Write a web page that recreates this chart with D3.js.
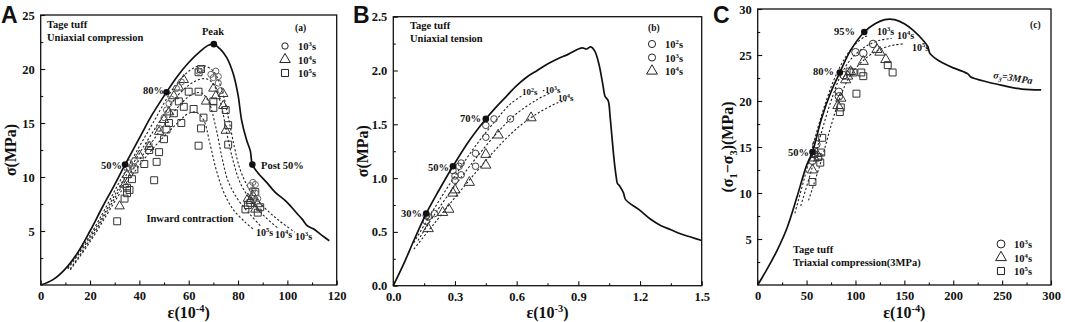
<!DOCTYPE html>
<html>
<head>
<meta charset="utf-8">
<script src="https://cdn.jsdelivr.net/npm/d3@7"></script>
<style>
  body { margin: 0; background: #fff; }
  text { font-family: "Liberation Serif", "Times New Roman", serif; font-weight: bold; fill: #111; }
  .letter { font-family: "Liberation Sans", Arial, sans-serif; font-size: 23px; }
</style>
</head>
<body>
<div id="chart"></div>
<script>
// ---- panel A : uniaxial compression (strain 1e-4, stress MPa)
const aXTicks = [0, 20, 40, 60, 80, 100, 120];
const aYTicks = [5, 10, 15, 20, 25];
const aSolid = [[0,0],[5,0.5],[10,1.5],[15,3.0],[20,5.0],[25,7.2],[30,9.3],[34.2,11.15],[40,13.6],[45,15.7],[51,17.85],[55,19.2],[60,20.6],[65,21.7],[68,22.2],[70.2,22.3],[72.5,21.9],[75.3,21.1],[78,19.6],[80,17.6],[81.5,15.2],[83.5,13.4],[85,12.4],[85.8,11.15],[88,10.4],[91.6,9.5],[95,8.6],[99.7,7.7],[104,6.6],[106,6.1],[108,5.5],[110.5,5.2],[114,4.6],[117,4.1]];
const aFit3 = [[11,1.6],[20,4.6],[34,10.4],[45,14.8],[55,18.6],[62,20.1],[66,20.3],[70,19.8],[73,18.4],[76,15.6],[78.5,12.8],[81,10.6],[85,8.7],[91,7.1],[97,5.9],[103,4.9]];
const aFit4 = [[11,1.5],[20,4.4],[35,10.3],[45,14.0],[55,17.4],[62,18.8],[67,19.1],[70,18.6],[73,16.8],[75.5,14.0],[78,11.5],[81,9.4],[86,7.6],[91,6.3],[96,5.3]];
const aFit5 = [[12,1.5],[20,4.2],[35,9.9],[45,13.2],[55,16.3],[61,17.6],[65,17.8],[68,17.0],[71,14.6],[73.5,11.8],[76,9.6],[80,7.9],[85,6.5],[89,5.5]];
const aFit6 = [[12,1.4],[20,4.0],[35,9.5],[45,12.5],[55,14.9],[60,15.9],[63,16.0],[66,15.3],[68.5,13.2],[71,10.8],[74,8.7],[78,7.0],[83,5.8],[86,5.2]];
const aCircle = [[35,10.8],[36,11.3],[37,11.0],[38,11.5],[44,13.0],[48,14.5],[50,15.5],[51,16.2],[52,16.8],[53,17.2],[55,18.2],[57,18.8],[64,19.8],[65,20.0],[69,19.5],[70,19.2],[71,19.8],[72,19.3],[72,18.7],[73,18.0],[85,9.2],[86,9.5],[87,9.3],[86,8.8],[87,8.5],[88,8.0]];
const aTriangle = [[32,7.3],[34,9.3],[35,10.2],[40,12.0],[44,12.8],[48,14.2],[50,15.3],[52,16.0],[54,17.5],[56,18.3],[58,19.0],[67,17.0],[70,18.2],[71,17.5],[74,17.7],[74,16.6],[75,14.3],[84,8.0],[85,7.8],[86,8.3],[88,7.5],[87,7.0]];
const aSquare = [[31,5.9],[34,8.0],[35,8.5],[35,9.0],[36,8.8],[37,9.8],[38,10.7],[42,11.2],[44,12.5],[46,9.7],[47,11.4],[48,12.3],[50,13.5],[51,14.4],[52,15.0],[54,15.9],[56,17.0],[57,15.0],[58,16.5],[60,17.9],[62,16.3],[64,17.9],[64,19.7],[65,20.0],[64,12.9],[66,15.5],[65,14.5],[70,16.4],[70,17.0],[75,16.2],[76,14.8],[76,13.0],[83,7.0],[84,7.4],[85,7.6],[87,8.6],[88,6.7],[89,7.2]];
const aDots = [[34.2,11.15],[51,17.85],[70.2,22.3],[85.8,11.15]];

// ---- panel B : uniaxial tension (strain 1e-3)
const bXTicks = [0, 0.3, 0.6, 0.9, 1.2, 1.5];
const bYTicks = [0, 0.5, 1.0, 1.5, 2.0, 2.5];
const bSolid = [[0,0],[0.05,0.2],[0.1,0.42],[0.16,0.67],[0.22,0.88],[0.29,1.11],[0.37,1.35],[0.45,1.55],[0.5,1.66],[0.55,1.76],[0.6,1.86],[0.65,1.94],[0.7,2.0],[0.75,2.06],[0.8,2.11],[0.85,2.15],[0.9,2.2],[0.92,2.21],[0.94,2.2],[0.96,2.22],[0.98,2.18],[1.0,2.06],[1.02,1.86],[1.03,1.76],[1.045,1.72],[1.055,1.56],[1.065,1.35],[1.075,1.15],[1.085,1.0],[1.09,0.95],[1.1,0.93],[1.12,0.86],[1.13,0.8],[1.2,0.7],[1.25,0.62],[1.3,0.56],[1.35,0.52],[1.4,0.48],[1.45,0.45],[1.5,0.42]];
const bFit2 = [[0.1,0.4],[0.2,0.72],[0.3,1.02],[0.4,1.3],[0.5,1.54],[0.57,1.69],[0.63,1.77]];
const bFit3 = [[0.12,0.42],[0.2,0.66],[0.3,0.93],[0.4,1.18],[0.5,1.41],[0.6,1.6],[0.7,1.73],[0.76,1.79]];
const bFit4 = [[0.1,0.34],[0.2,0.58],[0.3,0.82],[0.4,1.05],[0.5,1.27],[0.6,1.46],[0.7,1.6],[0.8,1.7],[0.84,1.72]];
const bCircle2 = [[0.16,0.65],[0.17,0.64],[0.2,0.67],[0.29,1.07],[0.3,1.02],[0.33,1.14],[0.45,1.49],[0.49,1.55]];
const bCircle3 = [[0.16,0.6],[0.3,0.98],[0.33,1.03],[0.32,1.11],[0.4,1.23],[0.4,1.11],[0.45,1.38],[0.57,1.55]];
const bTriangle = [[0.17,0.53],[0.24,0.68],[0.27,0.71],[0.3,0.89],[0.29,0.86],[0.37,0.96],[0.45,1.12],[0.45,1.22],[0.51,1.4],[0.67,1.56]];
const bDots = [[0.16,0.67],[0.29,1.11],[0.45,1.55]];

// ---- panel C : triaxial compression (strain 1e-4)
const cXTicks = [0, 50, 100, 150, 200, 250, 300];
const cYTicks = [5, 10, 15, 20, 25, 30];
const cSolid = [[0,0],[10,1.8],[20,3.8],[30,6.2],[40,9.5],[50,13],[56,14.45],[65,18],[75,21],[84,23.1],[95,25.5],[109,27.5],[120,28.4],[130,28.85],[140,28.85],[150,28.4],[160,27.6],[170,26.5],[174,25.9],[176,25.2],[182,24.6],[190,24.1],[200,23.6],[210,23.2],[215,22.95],[218,22.6],[230,22.2],[250,21.7],[270,21.3],[290,21.2]];
const cFit3 = [[38,7.8],[50,12.5],[60,16.5],[70,20],[80,22.8],[90,24.8],[100,26.2],[110,27.0],[114,27.1]];
const cFit4 = [[44,8.6],[55,12.5],[65,16.5],[75,20],[85,22.8],[95,24.5],[110,25.9],[125,26.6],[137,26.8]];
const cFit5 = [[52,9.2],[65,13.5],[75,17.3],[85,20.6],[95,22.8],[110,24.6],[125,25.6],[140,26.1],[150,26.2]];
const cCircle = [[56,13.5],[58,14.2],[60,15.3],[83,20.5],[83,21],[88,22.8],[100,25.3],[108,25.2],[118,26.2]];
const cTriangle = [[56,12.5],[58,13.8],[60,14.3],[82,19.5],[85,20.3],[90,22.3],[92,22.7],[95,23.2],[108,24.3],[122,25.6],[125,25.3],[131,24.5]];
const cSquare = [[56,11.2],[62,13.9],[64,13.3],[65,14.4],[66,16],[84,18.8],[85,19.3],[94,23.2],[98,23.1],[101,20.8],[106,23.1],[108,22.7],[133,23.9],[138,23.1]];
const cDots = [[56,14.45],[84,23.1],[109,27.5]];

const W = 1065, H = 322;
const svg = d3.select("#chart").append("svg").attr("width", W).attr("height", H);

// text with ^sup and _sub segments: "10^3s" or "σ_1"
const richText = (g, x, y, str, size, anchor) => {
    const t = g.append("text").attr("x", x).attr("y", y)
        .attr("font-size", size).attr("text-anchor", anchor || "start");
    const re = /([\^_])\{?([^}\s]*?)\}|([\^_])(.)|([^\^_]+)/g;
    let m, shift = 0;
    while ((m = re.exec(str)) !== null) {
        if (m[5]) {
            t.append("tspan").attr("dy", -shift).text(m[5]);
            shift = 0;
        } else {
            const kind = m[1] || m[3], body = m[2] || m[4];
            const d = kind === "^" ? -size * 0.36 : size * 0.28;
            t.append("tspan").attr("dy", d - shift).attr("font-size", size * 0.65).text(body);
            shift = d;
        }
    }
    return t;
};

const symbolOf = { circle: d3.symbolCircle, triangle: d3.symbolTriangle, square: d3.symbolSquare };

const drawPanel = (p) => {
    const g = svg.append("g");
    const x = d3.scaleLinear().domain(p.xDomain).range([p.left, p.right]);
    const y = d3.scaleLinear().domain(p.yDomain).range([p.bottom, p.top]);

    // minor ticks
    const xStep = p.xTicks[1] - p.xTicks[0], yStep = p.yTicks[1] - p.yTicks[0];
    const xMinor = p.xTicks.slice(0, -1).map((t) => t + xStep / 2);
    const yMinor = d3.range(p.yDomain[0] + yStep / 2, p.yDomain[1], yStep);
    g.append("g").attr("transform", `translate(0,${p.bottom})`)
        .call(d3.axisBottom(x).tickValues(xMinor).tickSizeInner(-2.5).tickSizeOuter(0).tickFormat(""));
    g.append("g").attr("transform", `translate(${p.left},0)`)
        .call(d3.axisLeft(y).tickValues(yMinor).tickSizeInner(-2.5).tickSizeOuter(0).tickFormat(""));

    const xAxis = g.append("g").attr("transform", `translate(0,${p.bottom})`)
        .call(d3.axisBottom(x).tickValues(p.xTicks).tickSizeInner(-4.5).tickSizeOuter(0)
            .tickPadding(5).tickFormat(p.xFormat));
    const yAxis = g.append("g").attr("transform", `translate(${p.left},0)`)
        .call(d3.axisLeft(y).tickValues(p.yTicks).tickSizeInner(-4.5).tickSizeOuter(0)
            .tickPadding(6).tickFormat(p.yFormat));
    g.selectAll(".domain").remove();
    g.selectAll(".tick line").attr("stroke", "#111").attr("stroke-width", 1.1);
    [xAxis, yAxis].forEach((a) => a.selectAll("text")
        .attr("font-size", 12.5).attr("font-family", "Liberation Serif").attr("font-weight", "bold").attr("fill", "#111"));
    xAxis.selectAll("text").attr("dy", "0.8em");

    g.append("rect")
        .attr("x", p.left).attr("y", p.top)
        .attr("width", p.right - p.left).attr("height", p.bottom - p.top)
        .attr("fill", "none").attr("stroke", "#111").attr("stroke-width", 1.3);

    const line = d3.line().x((d) => x(d[0])).y((d) => y(d[1])).curve(d3.curveCatmullRom.alpha(0.5));

    p.fits.forEach((f) => {
        g.append("path").attr("d", line(f))
            .attr("fill", "none").attr("stroke", "#222").attr("stroke-width", 1.1)
            .attr("stroke-dasharray", "2.2,2");
    });

    p.series.forEach((s) => {
        g.append("g").selectAll("path")
            .data(s.data).enter().append("path")
            .attr("transform", (d) => `translate(${x(d[0])},${y(d[1])})`)
            .attr("d", d3.symbol().type(symbolOf[s.shape]).size(s.size))
            .attr("fill", "none").attr("stroke", s.color).attr("stroke-width", 1);
    });

    g.append("path").attr("d", line(p.solid))
        .attr("fill", "none").attr("stroke", "#111").attr("stroke-width", 1.7);

    g.selectAll(".dot").data(p.dots).enter().append("circle")
        .attr("cx", (d) => x(d[0])).attr("cy", (d) => y(d[1]))
        .attr("r", 3.3).attr("fill", "#111");

    // legend
    p.legend.items.forEach((it, i) => {
        const ly = p.legend.y + i * p.legend.gap;
        g.append("path").attr("transform", `translate(${p.legend.x},${ly})`)
            .attr("d", d3.symbol().type(symbolOf[it.shape]).size(it.size + 10))
            .attr("fill", "none").attr("stroke", "#222").attr("stroke-width", 1);
        richText(g, p.legend.x + 13, ly + 4, it.label, 10.5);
    });

    p.notes.forEach((n) => {
        const t = richText(g, n.x, n.y, n.text, n.size || 10.5, n.anchor);
        if (n.rotate) t.attr("transform", `rotate(${n.rotate},${n.x},${n.y})`);
        if (n.weight) t.attr("font-weight", n.weight);
        if (n.italic) t.attr("font-style", "italic");
    });

    // axis titles
    richText(g, (p.left + p.right) / 2, 318, p.xTitle, 16, "middle");
    richText(g, 0, 0, p.yTitle, 16, "middle")
        .attr("transform", `translate(${p.left - 25},${(p.top + p.bottom) / 2}) rotate(-90)`);

    g.append("text").attr("class", "letter").attr("x", p.letterX).attr("y", 23).text(p.letter);
};

drawPanel({
    letter: "A", letterX: 1,
    xDomain: [0, 120], yDomain: [0, 25], left: 40.7, right: 336.7, top: 15, bottom: 285,
    xTicks: aXTicks, yTicks: aYTicks, xFormat: d3.format("d"), yFormat: d3.format("d"),
    xTitle: "ε(10^{-4})", yTitle: "σ(MPa)",
    solid: aSolid, fits: [aFit3, aFit4, aFit5, aFit6], dots: aDots,
    series: [
        { data: aSquare, shape: "square", size: 48, color: "#333" },
        { data: aTriangle, shape: "triangle", size: 38, color: "#333" },
        { data: aCircle, shape: "circle", size: 30, color: "#666" }
    ],
    legend: { x: 285, y: 46, gap: 13.5, items: [
        { shape: "circle", size: 22, label: "10^3s" },
        { shape: "triangle", size: 38, label: "10^4s" },
        { shape: "square", size: 40, label: "10^5s" }
    ] },
    notes: [
        { x: 47, y: 28, text: "Tage tuff" },
        { x: 47, y: 41, text: "Uniaxial  compression" },
        { x: 295, y: 31, text: "(a)", size: 9.5 },
        { x: 213, y: 35, text: "Peak", anchor: "middle" },
        { x: 164, y: 94, text: "80%", anchor: "end" },
        { x: 122, y: 169, text: "50%", anchor: "end" },
        { x: 261, y: 169, text: "Post 50%" },
        { x: 190, y: 222, text: "Inward contraction", anchor: "middle" },
        { x: 256, y: 236, text: "10^5s", size: 10 },
        { x: 275, y: 238, text: "10^4s", size: 10 },
        { x: 295, y: 240, text: "10^3s", size: 10 }
    ]
});

drawPanel({
    letter: "B", letterX: 353,
    xDomain: [0, 1.5], yDomain: [0, 2.5], left: 393.3, right: 701.7, top: 16.7, bottom: 285.7,
    xTicks: bXTicks, yTicks: bYTicks, xFormat: d3.format(".1f"), yFormat: d3.format(".1f"),
    xTitle: "ε(10^{-3})", yTitle: "σ(MPa)",
    solid: bSolid, fits: [bFit2, bFit3, bFit4], dots: bDots,
    series: [
        { data: bCircle2, shape: "circle", size: 34, color: "#444" },
        { data: bCircle3, shape: "circle", size: 34, color: "#444" },
        { data: bTriangle, shape: "triangle", size: 45, color: "#333" }
    ],
    legend: { x: 652, y: 44, gap: 13.5, items: [
        { shape: "circle", size: 30, label: "10^2s" },
        { shape: "circle", size: 30, label: "10^3s" },
        { shape: "triangle", size: 40, label: "10^4s" }
    ] },
    notes: [
        { x: 410, y: 29, text: "Tage tuff" },
        { x: 410, y: 42, text: "Uniaxial  tension" },
        { x: 648, y: 31, text: "(b)", size: 9.5 },
        { x: 481, y: 122, text: "70%", anchor: "end" },
        { x: 449, y: 171, text: "50%", anchor: "end" },
        { x: 422, y: 217, text: "30%", anchor: "end" },
        { x: 522, y: 95, text: "10^2s", size: 9, weight: "normal" },
        { x: 542, y: 93, text: "·10^3s", size: 9, weight: "normal" },
        { x: 558, y: 101, text: "10^4s", size: 9, weight: "normal" }
    ]
});

drawPanel({
    letter: "C", letterX: 713,
    xDomain: [0, 300], yDomain: [0, 30], left: 757.7, right: 1051, top: 9, bottom: 285,
    xTicks: cXTicks, yTicks: cYTicks, xFormat: d3.format("d"), yFormat: d3.format("d"),
    xTitle: "ε(10^{-4})", yTitle: "(σ_1−σ_3)(MPa)",
    solid: cSolid, fits: [cFit3, cFit4, cFit5], dots: cDots,
    series: [
        { data: cSquare, shape: "square", size: 48, color: "#333" },
        { data: cTriangle, shape: "triangle", size: 45, color: "#333" },
        { data: cCircle, shape: "circle", size: 45, color: "#333" }
    ],
    legend: { x: 1001, y: 244, gap: 13.5, items: [
        { shape: "circle", size: 40, label: "10^3s" },
        { shape: "triangle", size: 40, label: "10^4s" },
        { shape: "square", size: 40, label: "10^5s" }
    ] },
    notes: [
        { x: 1030, y: 28, text: "(c)", size: 9.5 },
        { x: 855, y: 35, text: "95%", anchor: "end" },
        { x: 834, y: 75, text: "80%", anchor: "end" },
        { x: 809, y: 156, text: "50%", anchor: "end" },
        { x: 877, y: 35, text: "10^3s", size: 10 },
        { x: 897, y: 39, text: "10^4s", size: 10 },
        { x: 912, y: 51, text: "10^5s", size: 10 },
        { x: 993, y: 78, text: "σ_3=3MPa", size: 10, weight: "normal", italic: true, rotate: 9 },
        { x: 793, y: 253, text: "Tage tuff" },
        { x: 793, y: 266, text: "Triaxial compression(3MPa)" }
    ]
});
</script>
</body>
</html>
